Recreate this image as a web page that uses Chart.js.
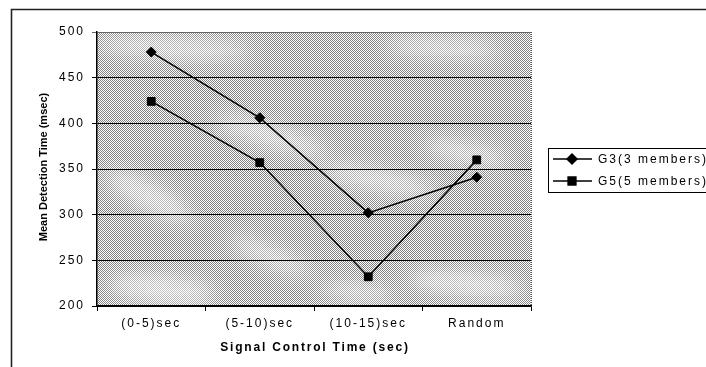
<!DOCTYPE html>
<html>
<head>
<meta charset="utf-8">
<title>Mean Detection Time</title>
<script src="https://cdn.jsdelivr.net/npm/chart.js@4/dist/chart.umd.min.js"></script>
<style>
  html, body { margin: 0; padding: 0; background: #fff; }
  canvas { display: block; letter-spacing: 2px; }
</style>
</head>
<body>
<canvas id="chart" width="706" height="367"></canvas>
<script>
// Categories and series
const categories = ['(0-5)sec', '(5-10)sec', '(10-15)sec', 'Random'];
const g3Values = [478, 406, 302, 341];
const g5Values = [424, 357, 232, 360];
const seriesNames = ['G3(3 members)', 'G5(5 members)'];
const yTicks = [200, 250, 300, 350, 400, 450, 500];
const xTitle = 'Signal Control Time (sec)';
const yTitle = 'Mean Detection Time (msec)';

const FONT = '"Liberation Sans", Arial, sans-serif';

// Dithered grey fill for the plot area
function makeDither() {
  const c = document.createElement('canvas');
  c.width = 2; c.height = 2;
  const x = c.getContext('2d');
  x.fillStyle = '#ffffff'; x.fillRect(0, 0, 2, 2);
  x.fillStyle = '#808080';
  x.fillRect(0, 0, 1, 1); x.fillRect(1, 1, 1, 1);
  return c;
}

const backdrop = {
  id: 'backdrop',
  beforeDraw(chart) {
    const ctx = chart.ctx;
    const a = chart.chartArea;
    ctx.letterSpacing = '2px';
    ctx.save();
    // outer frame
    ctx.strokeStyle = '#222';
    ctx.lineWidth = 1.6;
    ctx.beginPath();
    ctx.moveTo(11.5, 367);
    ctx.lineTo(11.5, 9.5);
    ctx.lineTo(706, 9.5);
    ctx.stroke();
    // plot area texture
    ctx.beginPath();
    ctx.rect(a.left, a.top, a.right - a.left, a.bottom - a.top);
    ctx.clip();
    ctx.fillStyle = ctx.createPattern(makeDither(), 'repeat');
    ctx.fillRect(a.left, a.top, a.right - a.left, a.bottom - a.top);
    // lighter streaks
    ctx.filter = 'blur(9px)';
    ctx.fillStyle = 'rgba(255,255,255,0.6)';
    const blobs = [
      [0.18, 0.06, 80, 10, 0.05],
      [0.80, 0.06, 60, 9, 0.05],
      [0.40, 0.38, 60, 10, 0.3],
      [0.12, 0.60, 50, 12, 0.5],
      [0.15, 0.94, 55, 14, 0.1],
      [0.40, 0.82, 45, 9, 0.4],
      [0.65, 0.54, 60, 10, 0.2],
      [0.85, 0.44, 45, 9, 0.2],
      [0.85, 0.92, 60, 12, 0.1],
      [0.60, 0.95, 40, 8, 0.1]
    ];
    const w = a.right - a.left, h = a.bottom - a.top;
    blobs.forEach(b => {
      ctx.beginPath();
      ctx.ellipse(a.left + b[0] * w, a.top + b[1] * h, b[2], b[3], b[4], 0, Math.PI * 2);
      ctx.fill();
    });
    ctx.filter = 'none';
    ctx.restore();
  },
  afterDraw(chart) {
    const ctx = chart.ctx;
    const a = chart.chartArea;
    ctx.save();
    // dotted right border of the plot area
    ctx.strokeStyle = '#555';
    ctx.lineWidth = 1;
    ctx.setLineDash([1, 1]);
    ctx.beginPath();
    ctx.moveTo(a.right + 0.5, a.top);
    ctx.lineTo(a.right + 0.5, a.bottom);
    ctx.stroke();
    ctx.setLineDash([]);

    // axis titles
    ctx.fillStyle = '#000';
    ctx.textAlign = 'center';
    ctx.textBaseline = 'middle';
    ctx.letterSpacing = '1.8px';
    ctx.font = 'bold 12px ' + FONT;
    ctx.fillText(xTitle, (a.left + a.right) / 2 + 1, 348);
    ctx.save();
    ctx.translate(44, (a.top + a.bottom) / 2 - 2);
    ctx.rotate(-Math.PI / 2);
    ctx.letterSpacing = '0px';
    ctx.font = 'bold 11px ' + FONT;
    ctx.fillText(yTitle, 0, 0);
    ctx.restore();

    // legend box
    const lx = 548, ly = 148, lw = 170, lh = 44;
    ctx.fillStyle = '#fff';
    ctx.fillRect(lx, ly, lw, lh);
    ctx.strokeStyle = '#000';
    ctx.lineWidth = 1;
    ctx.strokeRect(lx + 0.5, ly + 0.5, lw, lh);
    const rows = [159, 181];
    chart.data.datasets.forEach((ds, i) => {
      const y = rows[i];
      ctx.strokeStyle = '#000';
      ctx.lineWidth = 1.5;
      ctx.beginPath();
      ctx.moveTo(553, y);
      ctx.lineTo(592, y);
      ctx.stroke();
      ctx.fillStyle = '#000';
      Chart.helpers.drawPoint(ctx, {
        pointStyle: ds.pointStyle, radius: ds.pointRadius, rotation: 0, borderWidth: 1
      }, 572, y);
      ctx.fill();
      ctx.textAlign = 'left';
      ctx.textBaseline = 'middle';
      ctx.letterSpacing = '2px';
      ctx.font = '12px ' + FONT;
      ctx.fillText(ds.label, 598, y + 1);
    });
    ctx.restore();
  }
};

new Chart(document.getElementById('chart'), {
  type: 'line',
  data: {
    labels: categories,
    datasets: [
      {
        label: seriesNames[0],
        data: g3Values,
        borderColor: '#000',
        backgroundColor: '#000',
        borderWidth: 1.5,
        pointStyle: 'rectRot',
        pointRadius: 5,
        pointBorderWidth: 1,
        tension: 0
      },
      {
        label: seriesNames[1],
        data: g5Values,
        borderColor: '#000',
        backgroundColor: '#000',
        borderWidth: 1.5,
        pointStyle: 'rect',
        pointRadius: 5.5,
        pointBorderWidth: 1,
        tension: 0
      }
    ]
  },
  options: {
    responsive: false,
    devicePixelRatio: 1,
    animation: false,
    events: [],
    layout: { padding: { left: 10, top: 32, right: 175, bottom: 0 } },
    plugins: {
      legend: { display: false },
      tooltip: { enabled: false },
      title: { display: false }
    },
    scales: {
      x: {
        offset: true,
        afterFit(scale) { scale.height = 61; },
        grid: {
          offset: true,
          drawOnChartArea: false,
          drawTicks: true,
          tickLength: 5,
          color: '#000',
          lineWidth: 1
        },
        border: { color: '#000', width: 1.5 },
        ticks: {
          color: '#000',
          font: { family: FONT, size: 12 },
          padding: 5,
          autoSkip: false,
          maxRotation: 0
        }
      },
      y: {
        min: 200,
        max: 500,
        afterFit(scale) { scale.width = 87; },
        afterBuildTicks(scale) { scale.ticks = yTicks.map(v => ({ value: v })); },
        grid: {
          drawTicks: true,
          tickLength: 5,
          color: ctx => ctx.tick && ctx.tick.value === 500 ? '#666' : '#000',
          lineWidth: 1
        },
        border: { color: '#000', width: 1.5 },
        ticks: {
          color: '#000',
          font: { family: FONT, size: 12 },
          padding: 7
        }
      }
    }
  },
  plugins: [backdrop]
});
</script>
</body>
</html>
